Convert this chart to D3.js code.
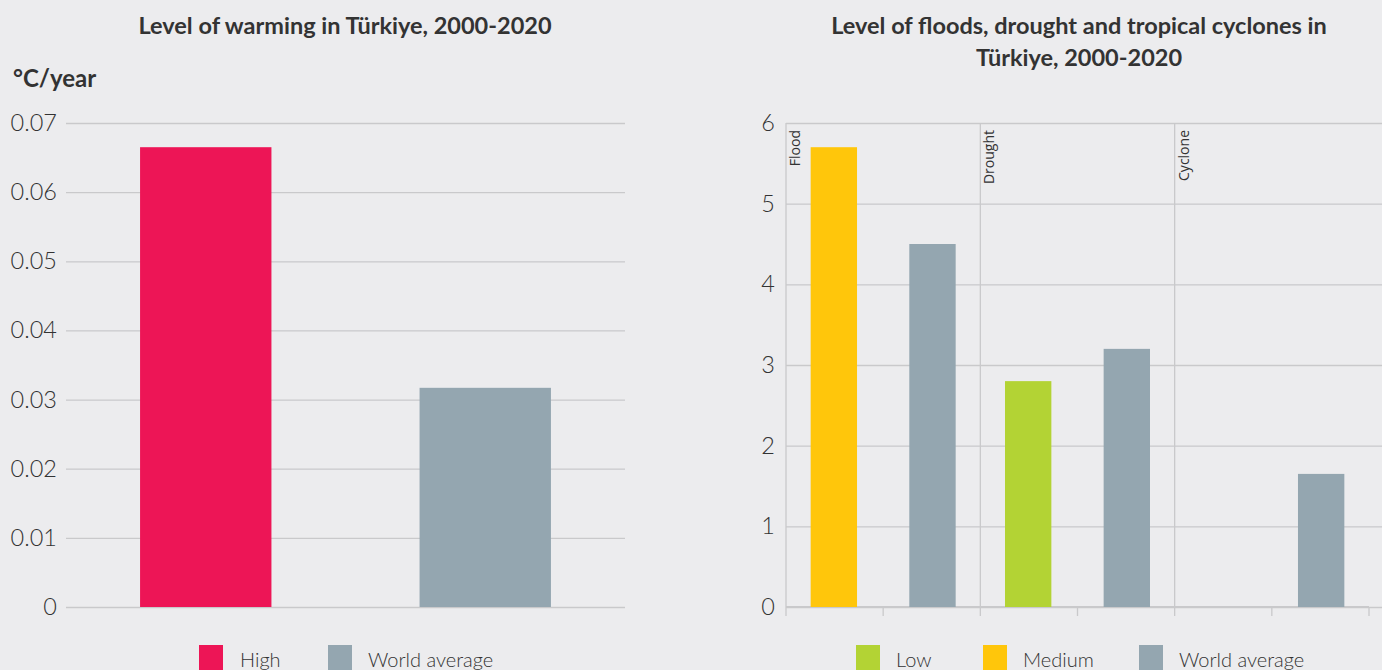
<!DOCTYPE html>
<html><head><meta charset="utf-8">
<script src="https://cdn.jsdelivr.net/npm/d3@7"></script>
<style>
html,body{margin:0;padding:0;background:#ececee;}
svg{display:block;}
</style></head>
<body>
<svg id="chart" width="1382" height="670"></svg>
<script>
// ---- Data ----
const warmCategories = ["High", "World average"];
const warmValues = [0.0665, 0.0317];
const warmTicks = [0, 0.01, 0.02, 0.03, 0.04, 0.05, 0.06, 0.07];

const hazardGroups = ["Flood", "Drought", "Cyclone"];
const hazardSeries = ["Türkiye", "World average"];
const hazardTurkiye = [5.7, 2.8, 0];
const hazardTurkiyeLevel = ["Medium", "Low", "Low"];
const hazardWorld = [4.5, 3.2, 1.65];
const hazardTicks = [0, 1, 2, 3, 4, 5, 6];

const colors = {High: "#ed1556", Medium: "#ffc60b", Low: "#b3d334", "World average": "#94a6b0"};
const leftLegend = ["High", "World average"];
const rightLegend = ["Low", "Medium", "World average"];

const svg = d3.select("#chart");
const font = "Lato, 'Open Sans', sans-serif";
const grid = "#c9c9cb";
const textCol = "#333";

// ---- Left chart ----
const L = {x0: 66, x1: 625, y0: 607, y1: 123};
const xL = d3.scaleBand().domain(warmCategories).range([L.x0, L.x1]).paddingInner(0.53).paddingOuter(0.265);
const yL = d3.scaleLinear().domain([0, 0.07]).range([L.y0, L.y1]);

const gL = svg.append("g");
gL.append("text").attr("x", 345).attr("y", 34).attr("text-anchor", "middle")
  .attr("font-family", font).attr("font-weight", 700).attr("font-size", 23.5).attr("fill", textCol)
  .text("Level of warming in Türkiye, 2000-2020");
gL.append("text").attr("x", 13).attr("y", 87)
  .attr("font-family", font).attr("font-weight", 700).attr("font-size", 24).attr("fill", textCol)
  .text("°C/year");

const axL = d3.axisLeft(yL).tickValues(warmTicks).tickSize(-(L.x1 - L.x0)).tickPadding(9)
  .tickFormat(d => d === 0 ? "0" : d3.format(".2f")(d));
const gAxL = gL.append("g").attr("transform", `translate(${L.x0},0)`).call(axL);
gAxL.select(".domain").remove();
gAxL.selectAll(".tick line").attr("stroke", grid).attr("stroke-width", 1.3);
gAxL.selectAll(".tick text").attr("font-family", font).attr("font-weight", 300)
  .attr("font-size", 23.5).attr("fill", textCol);

gL.selectAll("rect.bar").data(warmCategories).enter().append("rect")
  .attr("x", d => xL(d)).attr("width", xL.bandwidth())
  .attr("y", (d, i) => yL(warmValues[i])).attr("height", (d, i) => yL(0) - yL(warmValues[i]))
  .attr("fill", d => colors[d]);

// Left legend
const legL = [{x: 199, tx: 240}, {x: 328, tx: 368}];
leftLegend.forEach((k, i) => {
  gL.append("rect").attr("x", legL[i].x).attr("y", 645).attr("width", 24).attr("height", 26).attr("fill", colors[k]);
  gL.append("text").attr("x", legL[i].tx).attr("y", 667).attr("font-family", font).attr("font-weight", 300)
    .attr("font-size", 20).attr("fill", textCol).text(k);
});

// ---- Right chart ----
const R = {x0: 786, x1: 1369, y0: 607, y1: 123, gridEnd: 1382};
const xR = d3.scaleBand().domain(hazardGroups).range([R.x0, R.x1]);
const xSub = d3.scaleBand().domain(hazardSeries).range([0, xR.bandwidth()]).paddingInner(0.53).paddingOuter(0.25);
const yR = d3.scaleLinear().domain([0, 6]).range([R.y0, R.y1]);

const gR = svg.append("g");
const tR = gR.append("text").attr("text-anchor", "middle").attr("font-family", font)
  .attr("font-weight", 700).attr("font-size", 23.5).attr("fill", textCol);
tR.append("tspan").attr("x", 1079).attr("y", 34).text("Level of floods, drought and tropical cyclones in");
tR.append("tspan").attr("x", 1079).attr("y", 66).text("Türkiye, 2000-2020");

const axR = d3.axisLeft(yR).tickValues(hazardTicks).tickSize(-(R.gridEnd - R.x0)).tickPadding(11).tickFormat(d3.format("d"));
const gAxR = gR.append("g").attr("transform", `translate(${R.x0},0)`).call(axR);
gAxR.select(".domain").remove();
gAxR.selectAll(".tick line").attr("stroke", grid).attr("stroke-width", 1.3);
gAxR.selectAll(".tick text").attr("font-family", font).attr("font-weight", 300)
  .attr("font-size", 23.5).attr("fill", textCol);

// vertical group separators
hazardGroups.forEach(g => {
  gR.append("line").attr("x1", xR(g)).attr("x2", xR(g)).attr("y1", R.y1).attr("y2", R.y0 + 9)
    .attr("stroke", grid).attr("stroke-width", 1.3);
});
// bottom axis ticks
const subTicks = [];
hazardGroups.forEach(g => subTicks.push(xR(g) + xR.bandwidth() / 2));
subTicks.push(R.x1);
subTicks.forEach(x => {
  gR.append("line").attr("x1", x).attr("x2", x).attr("y1", R.y0).attr("y2", R.y0 + 9)
    .attr("stroke", grid).attr("stroke-width", 1.3);
});
gR.append("line").attr("x1", R.x0).attr("x2", R.x1).attr("y1", R.y0).attr("y2", R.y0)
  .attr("stroke", grid).attr("stroke-width", 2);

// bars
hazardGroups.forEach((g, i) => {
  const gx = xR(g);
  const vals = [hazardTurkiye[i], hazardWorld[i]];
  const cols = [colors[hazardTurkiyeLevel[i]], colors["World average"]];
  hazardSeries.forEach((s, j) => {
    if (vals[j] <= 0) return;
    gR.append("rect").attr("x", gx + xSub(s)).attr("width", xSub.bandwidth())
      .attr("y", yR(vals[j])).attr("height", yR(0) - yR(vals[j])).attr("fill", cols[j]);
  });
  gR.append("text").attr("transform", `translate(${gx + 14},${R.y1 + 7}) rotate(-90)`)
    .attr("text-anchor", "end").attr("font-family", "'Open Sans', sans-serif").attr("font-size", 14)
    .attr("fill", textCol).text(g);
});

// Right legend
const legR = [{x: 856, tx: 896}, {x: 983, tx: 1023}, {x: 1139, tx: 1179}];
rightLegend.forEach((k, i) => {
  gR.append("rect").attr("x", legR[i].x).attr("y", 645).attr("width", 24).attr("height", 26).attr("fill", colors[k]);
  gR.append("text").attr("x", legR[i].tx).attr("y", 667).attr("font-family", font).attr("font-weight", 300)
    .attr("font-size", 20).attr("fill", textCol).text(k);
});
</script>
</body></html>
